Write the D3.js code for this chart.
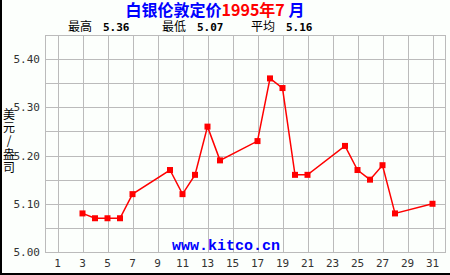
<!doctype html>
<html>
<head>
<meta charset="UTF-8">
<title>silver</title>
<script src="https://d3js.org/d3.v7.min.js"></script>
<style>
  body { margin: 0; background: #fff; }
  svg { display: block; }
</style>
</head>
<body>
<svg id="chart" width="450" height="275"></svg>
<script>
// data
var days = [3, 4, 5, 6, 7, 10, 11, 12, 13, 14, 17, 18, 19, 20, 21, 24, 25, 26, 27, 28, 31];
var prices = [5.08, 5.07, 5.07, 5.07, 5.12, 5.17, 5.12, 5.16, 5.26, 5.19, 5.23, 5.36, 5.34, 5.16, 5.16, 5.22, 5.17, 5.15, 5.18, 5.08, 5.10];
var yTicks = [5.00, 5.10, 5.20, 5.30, 5.40];
var yGrid = [5.05, 5.15, 5.25, 5.35];
var xTicks = [1, 3, 5, 7, 9, 11, 13, 15, 17, 19, 21, 23, 25, 27, 29, 31];
var stats = [["最高", "5.36"], ["最低", "5.07"], ["平均", "5.16"]];

var svg = d3.select("#chart");
var W = 450, H = 275;
var pLeft = 45, pRight = 445, pTop = 35, pBottom = 252;

var x = d3.scaleLinear().domain([0, 32]).range([pLeft, pRight]);
var y = d3.scaleLinear().domain([5.00, 5.45]).range([pBottom, pTop]);

svg.append("rect").attr("width", W).attr("height", H).attr("fill", "#fcfffc");
// frame of the picture (left + bottom dark)
svg.append("rect").attr("x", 0).attr("y", 0).attr("width", 2).attr("height", H).attr("fill", "#000");
svg.append("rect").attr("x", 0).attr("y", H - 2).attr("width", W).attr("height", 2).attr("fill", "#000");

var grid = svg.append("g").attr("stroke", "#bbbbbb").attr("stroke-width", 1).attr("shape-rendering", "crispEdges");
grid.selectAll("line.h").data(yTicks.concat(yGrid)).enter().append("line")
  .attr("x1", pLeft).attr("x2", pRight)
  .attr("y1", function (d) { return Math.round(y(d)) + 0.5; })
  .attr("y2", function (d) { return Math.round(y(d)) + 0.5; });
grid.selectAll("line.v").data(xTicks).enter().append("line")
  .attr("y1", pTop).attr("y2", pBottom)
  .attr("x1", function (d) { return Math.round(x(d)) + 0.5; })
  .attr("x2", function (d) { return Math.round(x(d)) + 0.5; });
grid.append("rect").attr("x", pLeft + 0.5).attr("y", pTop + 0.5)
  .attr("width", pRight - pLeft).attr("height", pBottom - pTop).attr("fill", "none");

// y tick labels
svg.append("g").selectAll("text").data(yTicks).enter().append("text")
  .attr("x", 40).attr("y", function (d) { return y(d) + 4; })
  .attr("text-anchor", "end")
  .attr("font-family", "DejaVu Sans Mono").attr("font-size", 11).attr("fill", "#333")
  .text(function (d) { return d.toFixed(2); });

// x tick labels
svg.append("g").selectAll("text").data(xTicks).enter().append("text")
  .attr("x", function (d) { return x(d); }).attr("y", 267)
  .attr("text-anchor", "middle")
  .attr("font-family", "DejaVu Sans Mono").attr("font-size", 11).attr("fill", "#333")
  .text(function (d) { return d; });

// y axis title, stacked characters
var yLabel = ["美", "元", "/", "盎", "司"];
svg.append("g").selectAll("text").data(yLabel).enter().append("text")
  .attr("x", 9).attr("y", function (d, i) { return 119 + i * 13.2; })
  .attr("text-anchor", "middle")
  .attr("font-family", "Noto Sans CJK SC").attr("font-size", 12).attr("fill", "#000")
  .text(function (d) { return d; });

// watermark
svg.append("text").attr("x", 226).attr("y", 250).attr("text-anchor", "middle")
  .attr("font-family", "Liberation Mono").attr("font-weight", "bold").attr("font-size", 15)
  .attr("fill", "#0000ff").text("www.kitco.cn");

// line + markers
var line = d3.line().x(function (d, i) { return x(days[i]); }).y(function (d) { return y(d); });
svg.append("path").datum(prices).attr("d", line)
  .attr("fill", "none").attr("stroke", "#ff0000").attr("stroke-width", 1.5);
svg.append("g").selectAll("rect").data(prices).enter().append("rect")
  .attr("x", function (d, i) { return x(days[i]) - 3; })
  .attr("y", function (d) { return y(d) - 3; })
  .attr("width", 6).attr("height", 6).attr("fill", "#ff0000");

// title
var title = svg.append("text").attr("x", 215).attr("y", 16).attr("text-anchor", "middle")
  .attr("font-family", "Noto Sans CJK SC").attr("font-weight", "bold").attr("font-size", 16);
title.append("tspan").attr("fill", "#0000ff").text("白银伦敦定价");
title.append("tspan").attr("fill", "#ff0000").text("1995年7");
title.append("tspan").attr("fill", "#0000ff").text(" 月");

// stats row
var statX = [68, 162, 251];
stats.forEach(function (s, i) {
  svg.append("text").attr("x", statX[i]).attr("y", 31)
    .attr("font-family", "Noto Sans CJK SC").attr("font-size", 12).attr("fill", "#000").text(s[0]);
  svg.append("text").attr("x", statX[i] + 35).attr("y", 31)
    .attr("font-family", "DejaVu Sans Mono").attr("font-weight", "bold").attr("font-size", 11)
    .attr("fill", "#000").text(s[1]);
});
</script>
</body>
</html>
